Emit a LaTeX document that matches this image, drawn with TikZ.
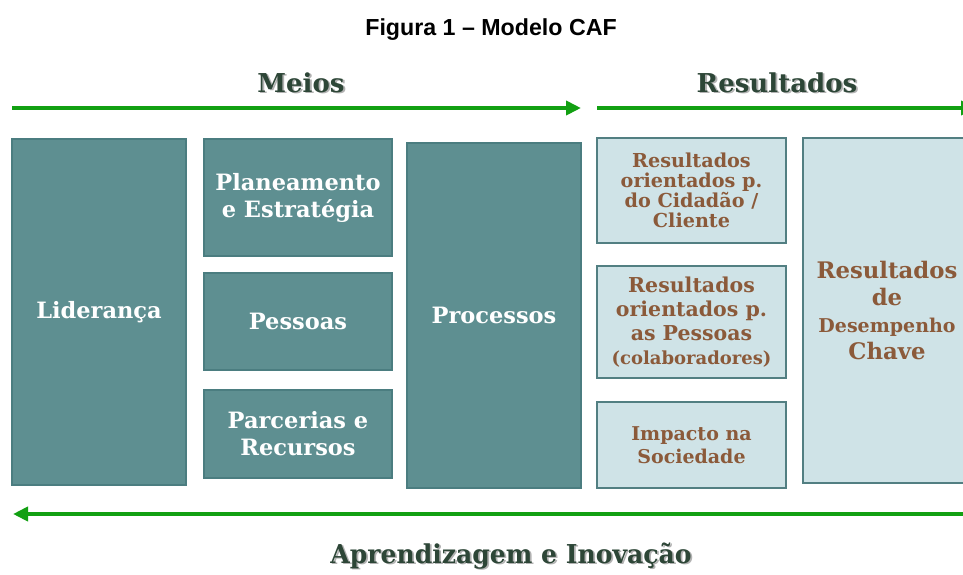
\documentclass[tikz,border=0pt]{standalone}
\usepackage{fontspec}
\setmainfont{DejaVu Serif}
\newfontfamily\titlefont{Liberation Sans}
\usetikzlibrary{arrows.meta}
\definecolor{tealfill}{HTML}{5E8F91}
\definecolor{tealedge}{HTML}{4B7D80}
\definecolor{lightfill}{HTML}{CFE3E7}
\definecolor{lightedge}{HTML}{527F82}
\definecolor{textbrown}{HTML}{8B5A3A}
\definecolor{headgreen}{HTML}{2D4637}
\definecolor{arrowgreen}{HTML}{12A012}
\newcommand{\shadowed}[1]{\leavevmode\rlap{\kern1.8pt\raisebox{-1.8pt}{\color{black!30}#1}}#1}
\tikzset{
  darkbox/.style={draw=tealedge, fill=tealfill, line width=2.5pt, text=white,
    font=\bfseries\fontsize{22.5}{27}\selectfont, align=center, inner sep=0pt},
  lightbox/.style={draw=lightedge, fill=lightfill, line width=2.5pt, text=textbrown,
    align=center, inner sep=0pt},
  heading/.style={text=headgreen, font=\bfseries\fontsize{26}{30}\selectfont, inner sep=0pt, anchor=base},
  flow/.style={draw=arrowgreen, line width=4.8pt, -{Triangle[length=15pt,width=14pt]}}
}
\begin{document}
\begin{tikzpicture}[x=1pt,y=-1pt]
\useasboundingbox (0,0) rectangle (963,574);
\clip (0,0) rectangle (963,574);
\fill[white] (0,0) rectangle (963,574);
% title
\node[font=\titlefont\bfseries\fontsize{23.2}{28}\selectfont, inner sep=0pt, anchor=base] (title) at (491,35) {Figura 1 – Modelo CAF};
% headings
\node[heading] (meios) at (301,92) {\shadowed{Meios}};
\node[heading] (resh) at (777,92) {\shadowed{Resultados}};
\node[heading] (apr) at (511,563) {\scalebox{0.965}[1]{\shadowed{Aprendizagem e Inovação}}};
% arrows
\coordinate (a1s) at (12,108);
\coordinate (a1e) at (581,108);
\coordinate (a2s) at (597,108);
\coordinate (a2e) at (976,108);
\coordinate (a3s) at (976,514);
\coordinate (a3e) at (13,514);
\draw[flow] (a1s) -- (a1e);
\draw[flow] (a2s) -- (a2e);
\draw[flow] (a3s) -- (a3e);
% meios boxes
\node[darkbox, minimum width=174pt, minimum height=346pt] (lid) at (99,312) {Liderança};
\node[darkbox, minimum width=188pt, minimum height=117pt] (plan) at (298,197.5) {Planeamento\\e Estratégia};
\node[darkbox, minimum width=188pt, minimum height=97pt] (pess) at (298,321.5) {Pessoas};
\node[darkbox, minimum width=188pt, minimum height=88pt] (parc) at (298,434) {Parcerias e\\Recursos};
\node[darkbox, minimum width=174pt, minimum height=345pt] (proc) at (494,315.5) {Processos};
% results boxes
\node[lightbox, minimum width=189pt, minimum height=105pt, font=\bfseries\fontsize{19.2}{20}\selectfont] (rc) at (691.5,190.5) {Resultados\\orientados p.\\do Cidadão /\\Cliente};
\node[lightbox, minimum width=189pt, minimum height=112pt, font=\bfseries\fontsize{20.5}{24}\selectfont] (rp) at (691.5,322) {Resultados\\orientados p.\\as Pessoas\\{\fontsize{18}{22}\selectfont (colaboradores)}};
\node[lightbox, minimum width=189pt, minimum height=86pt, font=\bfseries\fontsize{19}{23}\selectfont] (imp) at (691.5,445) {Impacto na\\Sociedade};
\node[lightbox, minimum width=168pt, minimum height=345pt, font=\bfseries\fontsize{22.8}{27}\selectfont] (rdc) at (887,310.5) {Resultados\\de\\{\fontsize{19}{27}\selectfont Desempenho}\\Chave};
\end{tikzpicture}
\end{document}
